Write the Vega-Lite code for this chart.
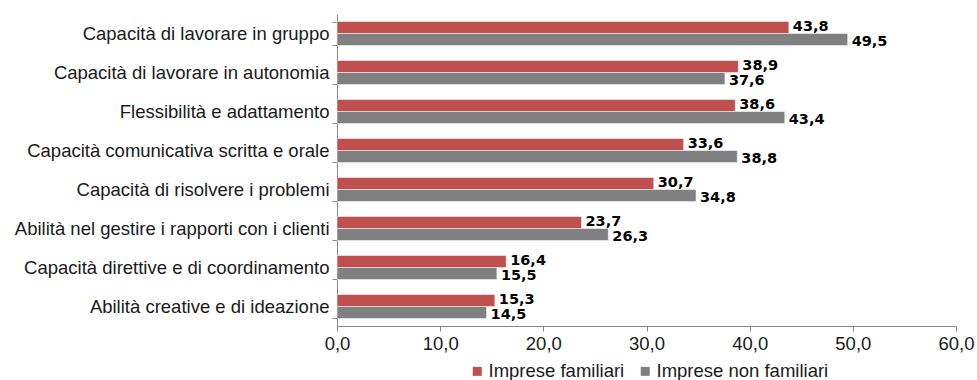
{
  "$schema": "https://vega.github.io/schema/vega-lite/v6.json",
  "width": 619,
  "height": 312,
  "autosize": {"type": "none"},
  "padding": {"left": 337, "top": 14, "right": 21, "bottom": 54},
  "config": {
    "view": {"stroke": null},
    "font": "Liberation Sans",
    "locale": {"number": {"decimal": ",", "thousands": ".", "grouping": [3], "currency": ["€", ""]}}
  },
  "data": {
    "values": [
      {"skill": "Capacità di lavorare in gruppo", "serie": "Imprese familiari", "valore": 43.8},
      {"skill": "Capacità di lavorare in gruppo", "serie": "Imprese non familiari", "valore": 49.5},
      {"skill": "Capacità di lavorare in autonomia", "serie": "Imprese familiari", "valore": 38.9},
      {"skill": "Capacità di lavorare in autonomia", "serie": "Imprese non familiari", "valore": 37.6},
      {"skill": "Flessibilità e adattamento", "serie": "Imprese familiari", "valore": 38.6},
      {"skill": "Flessibilità e adattamento", "serie": "Imprese non familiari", "valore": 43.4},
      {"skill": "Capacità comunicativa scritta e orale", "serie": "Imprese familiari", "valore": 33.6},
      {"skill": "Capacità comunicativa scritta e orale", "serie": "Imprese non familiari", "valore": 38.8},
      {"skill": "Capacità di risolvere i problemi", "serie": "Imprese familiari", "valore": 30.7},
      {"skill": "Capacità di risolvere i problemi", "serie": "Imprese non familiari", "valore": 34.8},
      {"skill": "Abilità nel gestire i rapporti con i clienti", "serie": "Imprese familiari", "valore": 23.7},
      {"skill": "Abilità nel gestire i rapporti con i clienti", "serie": "Imprese non familiari", "valore": 26.3},
      {"skill": "Capacità direttive e di coordinamento", "serie": "Imprese familiari", "valore": 16.4},
      {"skill": "Capacità direttive e di coordinamento", "serie": "Imprese non familiari", "valore": 15.5},
      {"skill": "Abilità creative e di ideazione", "serie": "Imprese familiari", "valore": 15.3},
      {"skill": "Abilità creative e di ideazione", "serie": "Imprese non familiari", "valore": 14.5}
    ]
  },
  "encoding": {
    "y": {
      "field": "skill",
      "type": "nominal",
      "sort": null,
      "scale": {"paddingInner": 0.385, "paddingOuter": 0.1925},
      "axis": {
        "title": null,
        "domainColor": "#888888",
        "tickColor": "#888888",
        "tickSize": 5,
        "tickBand": "extent",
        "labelFontSize": 18.5,
        "labelColor": "#1a1a1a",
        "labelPadding": 3,
        "labelLimit": 400
      }
    },
    "yOffset": {
      "field": "serie",
      "type": "nominal",
      "sort": ["Imprese familiari", "Imprese non familiari"]
    },
    "x": {
      "field": "valore",
      "type": "quantitative",
      "scale": {"domain": [0, 60], "nice": false},
      "axis": {
        "title": null,
        "format": ".1f",
        "values": [0, 10, 20, 30, 40, 50, 60],
        "grid": false,
        "labelFlush": false,
        "domainColor": "#888888",
        "tickColor": "#888888",
        "tickSize": 5,
        "labelFontSize": 18.5,
        "labelColor": "#1a1a1a",
        "labelPadding": 3
      }
    }
  },
  "layer": [
    {
      "mark": {"type": "bar", "stroke": "white", "strokeWidth": 0.5},
      "encoding": {
        "color": {
          "field": "serie",
          "type": "nominal",
          "scale": {"domain": ["Imprese familiari", "Imprese non familiari"], "range": ["#C0504D", "#808080"]},
          "legend": {
            "orient": "none",
            "legendX": 131,
            "legendY": 348,
            "direction": "horizontal",
            "title": null,
            "symbolType": "square",
            "symbolSize": 81,
            "symbolStrokeWidth": 0,
            "labelFontSize": 18.5,
            "labelColor": "#1a1a1a",
            "labelOffset": 2,
            "labelLimit": 400,
            "columnPadding": 11
          }
        }
      }
    },
    {
      "transform": [{"filter": "datum.serie == 'Imprese familiari'"}],
      "mark": {"type": "text", "align": "left", "baseline": "middle", "dx": 4, "dy": -1, "fontWeight": "bold", "fontSize": 14.5, "font": "DejaVu Sans", "color": "#000000"},
      "encoding": {"text": {"field": "valore", "type": "quantitative", "format": ".1f"}}
    },
    {
      "transform": [{"filter": "datum.serie == 'Imprese non familiari'"}],
      "mark": {"type": "text", "align": "left", "baseline": "middle", "dx": 4, "dy": 3, "fontWeight": "bold", "fontSize": 14.5, "font": "DejaVu Sans", "color": "#000000"},
      "encoding": {"text": {"field": "valore", "type": "quantitative", "format": ".1f"}}
    }
  ]
}
